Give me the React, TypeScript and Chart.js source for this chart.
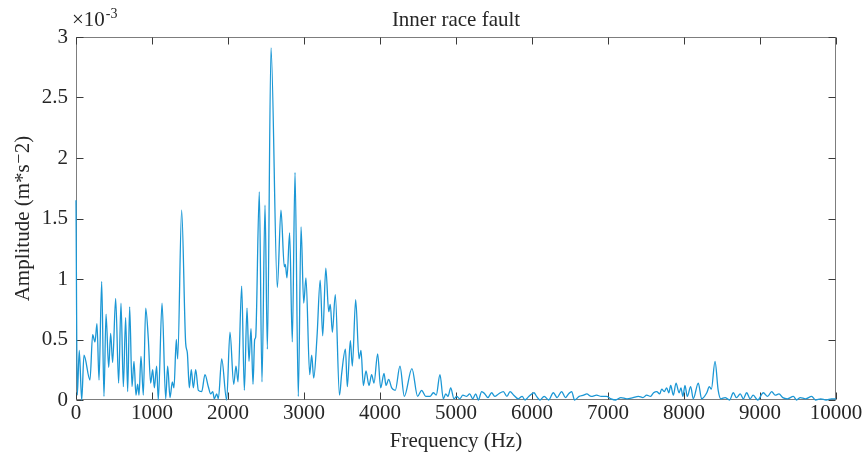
import React, { useEffect, useRef } from 'react';
import { Chart, registerables } from 'chart.js';

Chart.register(...registerables);

// Frequency axis samples (Hz)
const freqHz = [
  0, 17, 43, 75, 105, 184, 219, 250, 276, 303, 338, 368, 395, 430, 456, 482, 522, 561, 592, 623,
  653, 680, 706, 737, 763, 789, 811, 829, 855, 886, 917, 952, 982, 1009, 1031, 1061, 1083, 1132, 1180, 1206,
  1237, 1268, 1289, 1320, 1338, 1390, 1443, 1465, 1491, 1517, 1544, 1575, 1610, 1654, 1697, 1741, 1772, 1799, 1820, 1851,
  1873, 1917, 1982, 2026, 2075, 2105, 2132, 2180, 2215, 2250, 2276, 2303, 2329, 2351, 2364, 2412, 2447, 2487, 2518, 2566,
  2649, 2697, 2741, 2754, 2776, 2811, 2846, 2882, 2925, 2961, 2996, 3026, 3075, 3101, 3128, 3171, 3213, 3246, 3287, 3325,
  3346, 3373, 3412, 3467, 3496, 3545, 3570, 3610, 3636, 3680, 3724, 3750, 3781, 3816, 3855, 3890, 3921, 3969, 4009, 4053,
  4079, 4114, 4154, 4201, 4263, 4320, 4420, 4495, 4548, 4601, 4658, 4702, 4740, 4789, 4833, 4865, 4895, 4930, 4974, 5009,
  5050, 5090, 5140, 5180, 5220, 5260, 5294, 5338, 5380, 5420, 5469, 5510, 5560, 5623, 5670, 5711, 5760, 5820, 5870, 5908,
  5960, 6026, 6060, 6105, 6160, 6220, 6281, 6330, 6390, 6440, 6480, 6522, 6560, 6620, 6680, 6720, 6780, 6850, 6910, 6980,
  7040, 7100, 7170, 7250, 7330, 7400, 7460, 7509, 7560, 7600, 7641, 7680, 7707, 7740, 7772, 7800, 7825, 7860, 7895, 7935,
  7960, 7985, 8013, 8043, 8088, 8122, 8188, 8232, 8300, 8333, 8360, 8408, 8450, 8485, 8540, 8600, 8649, 8690, 8740, 8780,
  8825, 8870, 8910, 8970, 9044, 9100, 9154, 9200, 9250, 9300, 9360, 9439, 9480, 9530, 9600, 9680, 9730, 9800, 9870, 9940,
  10000,
];

// Amplitude (x 10^-3 m*s^-2)
const amplitude = [
  1.65, 0.04, 0.41, 0.0, 0.37, 0.165, 0.54, 0.48, 0.63, 0.165, 0.98, 0.03, 0.71, 0.27, 0.55, 0.31, 0.84, 0.14, 0.80, 0.11,
  0.68, 0.07, 0.77, 0.11, 0.32, 0.04, 0.13, 0.04, 0.36, 0.04, 0.76, 0.50, 0.14, 0.25, 0.10, 0.28, 0.0, 0.80, 0.01, 0.28,
  0.02, 0.15, 0.10, 0.50, 0.34, 1.57, 0.47, 0.39, 0.10, 0.25, 0.10, 0.25, 0.08, 0.07, 0.21, 0.11, 0.05, 0.07, 0.01, 0.05,
  0.01, 0.34, 0.0, 0.56, 0.13, 0.28, 0.15, 0.94, 0.08, 0.76, 0.32, 0.59, 0.13, 0.50, 0.52, 1.72, 0.15, 1.61, 0.42, 2.91,
  0.93, 1.57, 1.10, 1.12, 1.01, 1.38, 0.48, 1.88, 0.03, 1.43, 0.80, 1.01, 0.21, 0.37, 0.18, 0.52, 0.99, 0.53, 1.09, 0.73,
  0.79, 0.56, 0.87, 0.04, 0.22, 0.42, 0.11, 0.49, 0.28, 0.83, 0.34, 0.41, 0.12, 0.24, 0.12, 0.21, 0.14, 0.38, 0.10, 0.22,
  0.12, 0.17, 0.10, 0.08, 0.28, 0.03, 0.26, 0.03, 0.08, 0.03, 0.03, 0.06, 0.04, 0.21, 0.01, 0.05, 0.03, 0.10, 0.01, 0.03,
  0.01, 0.04, 0.03, 0.05, 0.01, 0.05, 0.0, 0.07, 0.05, 0.02, 0.06, 0.03, 0.05, 0.07, 0.03, 0.07, 0.04, 0.01, 0.03, 0.0,
  0.03, 0.06, 0.03, 0.0, 0.03, 0.0, 0.06, 0.02, 0.07, 0.02, 0.05, 0.07, 0.0, 0.03, 0.04, 0.05, 0.03, 0.04, 0.03, 0.03,
  0.01, 0.0, 0.02, 0.01, 0.02, 0.03, 0.02, 0.04, 0.03, 0.06, 0.07, 0.05, 0.09, 0.07, 0.10, 0.06, 0.12, 0.04, 0.14, 0.06,
  0.10, 0.03, 0.12, 0.03, 0.11, 0.01, 0.14, 0.01, 0.06, 0.11, 0.09, 0.32, 0.08, 0.01, 0.02, 0.0, 0.06, 0.02, 0.05, 0.01,
  0.06, 0.01, 0.04, 0.0, 0.06, 0.03, 0.07, 0.04, 0.05, 0.02, 0.01, 0.03, 0.0, 0.02, 0.01, 0.03, 0.0, 0.01, 0.0, 0.01,
  0.01,
];

const xTicks = [0, 1000, 2000, 3000, 4000, 5000, 6000, 7000, 8000, 9000, 10000];
const yTicks = [0, 0.5, 1, 1.5, 2, 2.5, 3];

const chartTitle = 'Inner race fault';
const xLabel = 'Frequency (Hz)';
const yLabel = 'Amplitude (m*s\u207B2)';
const exponentBase = '\u00D710';
const exponentPower = '-3';

const FONT = '"Liberation Serif", "DejaVu Serif", serif';
const TEXT = '#262626';
const LINE = '#1b97d5';

const decor = {
  id: 'decor',
  beforeDatasetsDraw(chart: any) {
    const { ctx, chartArea: a, scales } = chart;
    const L = Math.round(a.left) + 0.5;
    const R = Math.round(a.right) - 0.5;
    const T = Math.round(a.top) + 0.5;
    const B = Math.round(a.bottom) - 0.5;
    ctx.save();
    ctx.lineWidth = 1;
    ctx.strokeStyle = '#7d7d7d';
    ctx.strokeRect(L, T, R - L, B - T);
    ctx.strokeStyle = '#3a3a3a';
    const tl = 7;
    ctx.beginPath();
    for (const t of xTicks) {
      const x = Math.round(scales.x.getPixelForValue(t)) + 0.5;
      ctx.moveTo(x, B); ctx.lineTo(x, B - tl);
      ctx.moveTo(x, T); ctx.lineTo(x, T + tl);
    }
    for (const t of yTicks) {
      const y = Math.round(scales.y.getPixelForValue(t)) + 0.5;
      ctx.moveTo(L, y); ctx.lineTo(L + tl, y);
      ctx.moveTo(R, y); ctx.lineTo(R - tl, y);
    }
    ctx.stroke();
    ctx.restore();
  },
  afterDraw(chart: any) {
    const { ctx, chartArea: a } = chart;
    ctx.save();
    ctx.fillStyle = TEXT;
    ctx.font = `21px ${FONT}`;
    ctx.textAlign = 'center';
    ctx.textBaseline = 'alphabetic';
    const cx = (a.left + a.right) / 2;
    ctx.fillText(chartTitle, cx, 26);
    ctx.fillText(xLabel, cx, 447);

    ctx.save();
    ctx.translate(29, (a.top + a.bottom) / 2);
    ctx.rotate(-Math.PI / 2);
    ctx.fillText(yLabel, 0, 0);
    ctx.restore();

    ctx.textAlign = 'left';
    ctx.font = `21px ${FONT}`;
    ctx.fillText(exponentBase, 72, 26);
    const w = ctx.measureText(exponentBase).width;
    ctx.font = `14px ${FONT}`;
    ctx.fillText(exponentPower, 72 + w + 1, 18);
    ctx.restore();
  },
};

export default function App() {
  const ref = useRef<HTMLCanvasElement | null>(null);

  useEffect(() => {
    document.body.style.margin = '0';
    const canvas = ref.current;
    if (!canvas) return;
    const points = freqHz.map((f, i) => ({ x: f, y: amplitude[i] }));
    const chart = new Chart(canvas, {
      type: 'line',
      data: {
        datasets: [
          {
            data: points,
            borderColor: LINE,
            borderWidth: 1.3,
            pointRadius: 0,
            fill: false,
            clip: 3,
            cubicInterpolationMode: 'monotone',
          },
        ],
      },
      options: {
        responsive: false,
        animation: false,
        devicePixelRatio: 1,
        layout: { padding: { top: 37, right: 29, left: 0, bottom: 0 } },
        plugins: { legend: { display: false }, tooltip: { enabled: false }, title: { display: false } },
        scales: {
          x: {
            type: 'linear',
            min: 0,
            max: 10000,
            afterBuildTicks: (s: any) => { s.ticks = xTicks.map((v) => ({ value: v })); },
            ticks: { color: TEXT, font: { family: FONT, size: 21 }, padding: 1, maxRotation: 0, autoSkip: false, callback: (v: any) => String(v) },
            grid: { display: false, drawTicks: false },
            border: { display: false },
            afterFit: (s: any) => { s.height = 61; },
          },
          y: {
            type: 'linear',
            min: 0,
            max: 3,
            afterBuildTicks: (s: any) => { s.ticks = yTicks.map((v) => ({ value: v })); },
            ticks: { color: TEXT, font: { family: FONT, size: 21 }, padding: 8, autoSkip: false, callback: (v: any) => String(v) },
            grid: { display: false, drawTicks: false },
            border: { display: false },
            afterFit: (s: any) => { s.width = 76; },
          },
        },
      },
      plugins: [decor],
    });
    return () => chart.destroy();
  }, []);

  return (
    <div style={{ width: 865, height: 461, background: '#fff' }}>
      <canvas ref={ref} width={865} height={461} style={{ display: 'block' }} />
    </div>
  );
}
